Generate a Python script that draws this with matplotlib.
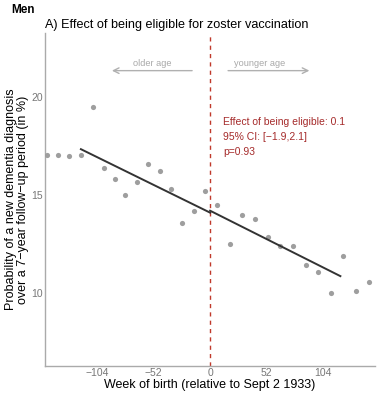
import matplotlib
matplotlib.use("Agg")
import matplotlib.pyplot as plt

plt.rcParams['font.family'] = ['Liberation Sans', 'DejaVu Sans']

# binned means, week of birth relative to Sept 2 1933
weeks = [-150, -140, -130, -119, -108, -98, -88, -78, -67, -57, -46, -36, -26, -15,
         -5, 6, 18, 29, 41, 53, 64, 76, 88, 99, 111, 122, 134, 146]
prob = [17.05, 17.05, 17.0, 17.05, 19.5, 16.4, 15.8, 15.0, 15.65, 16.6, 16.25, 15.3, 13.55, 14.2,
        15.2, 14.5, 12.5, 14.0, 13.8, 12.85, 12.4, 12.4, 11.4, 11.05, 10.0, 11.9, 10.1, 10.55]

# fitted lines either side of the cutoff
fit_left_x = [-119, 0]
fit_left_y = [17.35, 14.1]
fit_right_x = [0, 120]
fit_right_y = [14.2, 10.85]

xticks = [-104, -52, 0, 52, 104]
yticks = [10, 15, 20]

effect_lines = ['Effect of being eligible: 0.1', '95% CI: [\u22121.9,2.1]', 'p=0.93']

fig = plt.figure(figsize=(3.82, 3.96), dpi=100)
ax = fig.add_axes([0.118, 0.0758, 0.864, 0.841])

ax.scatter(weeks, prob, s=14, color='#9e9e9e', zorder=3, linewidths=0)
ax.plot(fit_left_x, fit_left_y, color='#333333', lw=1.4, zorder=4)
ax.plot(fit_right_x, fit_right_y, color='#333333', lw=1.4, zorder=4)
ax.axvline(0, color='#c0392b', ls=(0, (3, 3)), lw=1.0, zorder=2)

ax.annotate('', xy=(-93, 21.37), xytext=(-14, 21.37),
            arrowprops=dict(arrowstyle='->', color='#b0b0b0', lw=1.0))
ax.annotate('', xy=(94, 21.37), xytext=(14, 21.37),
            arrowprops=dict(arrowstyle='->', color='#b0b0b0', lw=1.0))
ax.text(-53, 21.75, 'older age', color='#a8a8a8', fontsize=6.6, ha='center', va='center')
ax.text(46, 21.75, 'younger age', color='#a8a8a8', fontsize=6.6, ha='center', va='center')

# effect annotation, one line at a time so they line up on the left
for i, line in enumerate(effect_lines):
    ax.text(12, 18.72 - i * 0.76, line, color='#a52a2a', fontsize=7.5,
            ha='left', va='center')

ax.set_xlim(-152, 152)
ax.set_ylim(6.25, 23.3)
ax.set_xticks(xticks)
ax.set_xticklabels([str(t).replace('-', '\u2212') for t in xticks])
ax.set_yticks(yticks)
ax.tick_params(length=0, labelsize=7.5, labelcolor='#777777', pad=1.5)
for s in ['top', 'right']:
    ax.spines[s].set_visible(False)
for s in ['left', 'bottom']:
    ax.spines[s].set_color('#aaaaaa')
    ax.spines[s].set_linewidth(1.0)

ax.set_xlabel('Week of birth (relative to Sept 2 1933)', fontsize=9, labelpad=0.5)
ax.set_ylabel('Probability of a new dementia diagnosis\nover a 7\u2212year follow\u2212up period (in %)',
              fontsize=9, labelpad=2, linespacing=1.0)

fig.text(0.118, 0.937, 'A) Effect of being eligible for zoster vaccination', fontsize=9.1,
         ha='left', va='center')
fig.text(0.03, 0.975, 'Men', fontsize=8.5, fontweight='bold', ha='left', va='center')

fig.savefig('out.png', dpi=100)
